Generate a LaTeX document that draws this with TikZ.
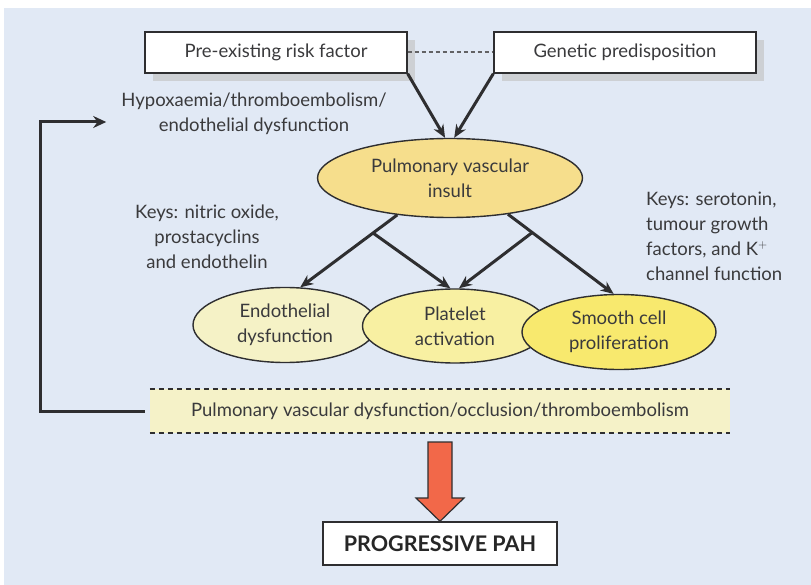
\documentclass[tikz,border=0pt]{standalone}
\usepackage{fontspec}
\setmainfont{Lato}
\usetikzlibrary{shapes.geometric,shadows,arrows.meta,calc}
\definecolor{bgblue}{HTML}{E1E9F5}
\definecolor{inktext}{HTML}{3A3A3C}
\definecolor{boxline}{HTML}{2E2E30}
\definecolor{shadowgray}{HTML}{CDD0D4}
\definecolor{insultfill}{HTML}{F6DE8C}
\definecolor{endofill}{HTML}{F5F2C6}
\definecolor{platefill}{HTML}{F8F0A2}
\definecolor{smoothfill}{HTML}{F8E96E}
\definecolor{dysffill}{HTML}{F5F2C8}
\definecolor{pahred}{HTML}{F26849}
\newcommand{\bodysize}{\fontsize{18.5}{25}\selectfont}
\tikzset{
            riskbox/.style={draw=boxline, fill=white, line width=1.4pt, minimum width=262pt, minimum height=41pt,
                drop shadow={shadow xshift=8pt, shadow yshift=-8pt, fill=shadowgray, opacity=1}},
            blob/.style={ellipse, draw=boxline, line width=1.4pt, inner sep=0pt, align=center},
            link/.style={-{Stealth[length=13pt,width=11pt]}, line width=3pt, draw=boxline},
            keytext/.style={text=inktext, inner sep=0pt}
        }

\begin{document}
\begin{tikzpicture}[
                    x=1pt, y=-1pt,
                    every node/.style={font=\bodysize, text=inktext}
                    ]
                \useasboundingbox (0,0) rectangle (811,585);
                \fill[bgblue] (4,8) rectangle (811,585);

                \node[riskbox] (risk) at (276,52.5) {Pre-existing risk factor};
                \node[riskbox] (gene) at (625,52.5) {Genetic predisposition};
                \draw[boxline!75, dash pattern=on 4pt off 3pt, line width=2pt] (risk) -- (gene);

                \node[keytext, align=center] (hypox) at (254,114) {Hypoxaemia/thromboembolism/\\endothelial dysfunction};
                \node[keytext, align=center] (keysleft) at (207,237) {Keys: nitric oxide,\\prostacyclins\\and endothelin};
                \node[keytext, align=left, anchor=west] (keysright) at (646,236) {Keys: serotonin,\\tumour growth\\factors, and K$^{+}$\\channel function};

                \node[blob, fill=insultfill, minimum width=265pt, minimum height=79pt] (insult) at (450,178) {Pulmonary vascular\\insult};
                \node[blob, fill=endofill, minimum width=184pt, minimum height=75pt] (endo) at (285,325) {Endothelial\\dysfunction};
                \node[blob, fill=platefill, minimum width=185pt, minimum height=74pt] (plate) at (455,326) {Platelet\\activation};
                \node[blob, fill=smoothfill, minimum width=194pt, minimum height=75pt] (smooth) at (619,332) {Smooth cell\\proliferation};

                \draw[link] (risk.south east) -- (insult.97);
                \draw[link] (gene.south west) -- (insult.84);

                \draw[link] (insult.-145) -- coordinate[pos=0.25] (forkleft) (endo.68);
                \draw[link] (insult.-32) -- coordinate[pos=0.23] (forkright) (smooth.98);
                \draw[link] (forkleft) -- (plate.97);
                \draw[link] (forkright) -- (plate.84);

                \node[fill=dysffill, minimum width=580pt, minimum height=44pt, inner sep=0pt] (dysf) at (440,411) {Pulmonary vascular dysfunction/occlusion/thromboembolism};
                \draw[boxline, line width=2.4pt, dash pattern=on 5pt off 4pt] (dysf.north west) -- (dysf.north east);
                \draw[boxline, line width=2.4pt, dash pattern=on 5pt off 4pt] (dysf.south west) -- (dysf.south east);

                \draw[-{Stealth[length=13pt,width=12pt]}, line width=3pt, boxline] ([xshift=-5pt]dysf.west) -- (40,411) |- ($(hypox.west)+(-15,8)$);

                \node[draw=boxline, fill=white, line width=1.4pt, minimum width=234pt, minimum height=43pt, font=\fontsize{21.5}{25}\selectfont\bfseries, text=black!85] (pah) at (440,543.5) {PROGRESSIVE PAH};

                \draw[boxline, fill=pahred, line width=1.2pt] (428,442) -- (452,442) -- (452,498) -- (464,498) -- (pah.north) -- (416,498) -- (428,498) -- cycle;
            \end{tikzpicture}
\end{document}
